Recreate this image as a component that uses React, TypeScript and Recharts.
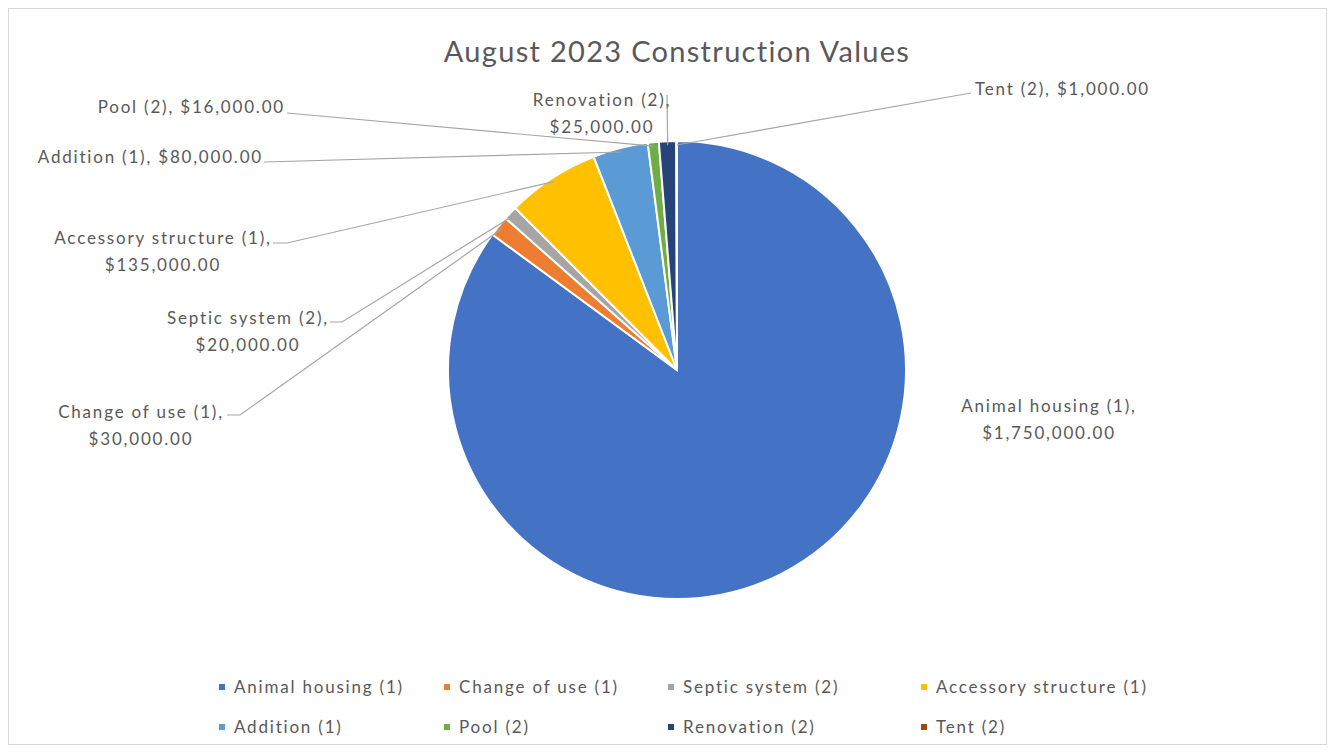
import React from 'react';
import { PieChart, Pie, Cell, Legend } from 'recharts';

const categories = [
	'Animal housing (1)',
	'Change of use (1)',
	'Septic system (2)',
	'Accessory structure (1)',
	'Addition (1)',
	'Pool (2)',
	'Renovation (2)',
	'Tent (2)',
];
const values = [1750000, 30000, 20000, 135000, 80000, 16000, 25000, 1000];
const colors = ['#4472C4', '#ED7D31', '#A5A5A5', '#FFC000', '#5B9BD5', '#70AD47', '#264478', '#9E480E'];

const W = 1319;
const H = 737;
const FONT = 'Lato, "Open Sans", sans-serif';
const TEXT = '#595959';
const SPACING = 1.8;

// hand placed data labels (chart coords). split = two lines centred on x.
// lx,ly = where the leader line leaves the label, tick = short flat bit
type Lay = { x: number; y: number; anchor: 'start' | 'middle' | 'end'; split: boolean; lx?: number; ly?: number; tick?: number };
const labelLayout: Lay[] = [
	{ x: 1040, y: 403, anchor: 'middle', split: true },
	{ x: 132, y: 409, anchor: 'middle', split: true, lx: 218, ly: 406, tick: 13 },
	{ x: 239, y: 315, anchor: 'middle', split: true, lx: 321, ly: 313, tick: 12 },
	{ x: 154, y: 235, anchor: 'middle', split: true, lx: 264, ly: 234, tick: 14 },
	{ x: 254, y: 154, anchor: 'end', split: false, lx: 255, ly: 153, tick: 0 },
	{ x: 276, y: 104, anchor: 'end', split: false, lx: 278, ly: 104, tick: 0 },
	{ x: 593, y: 97, anchor: 'middle', split: true, lx: 658, ly: 86, tick: 0 },
	{ x: 966, y: 86, anchor: 'start', split: false, lx: 962, ly: 84, tick: 0 },
];

const money = (v: number) => '$' + v.toLocaleString('en-US', { minimumFractionDigits: 2, maximumFractionDigits: 2 });

const data = categories.map((name, i) => ({ name, value: values[i] }));

const renderLabel = (props: any) => {
	const { cx, cy, midAngle, outerRadius, index } = props;
	const lay = labelLayout[index];
	const RAD = Math.PI / 180;
	const ex = cx + (outerRadius - 4) * Math.cos(-midAngle * RAD);
	const ey = cy + (outerRadius - 4) * Math.sin(-midAngle * RAD);
	const name = categories[index];
	const val = money(values[index]);
	const style = { letterSpacing: SPACING };
	return (
		<g key={'lbl' + index}>
			{lay.lx !== undefined && (
				<polyline
					points={`${lay.lx},${lay.ly} ${lay.lx + (lay.tick || 0)},${lay.ly} ${ex},${ey}`}
					fill="none"
					stroke="#a6a6a6"
					strokeWidth={1.2}
				/>
			)}
			{lay.split ? (
				<text x={lay.x} y={lay.y} fill={TEXT} fontSize={17} fontFamily={FONT} textAnchor="middle" style={style}>
					<tspan x={lay.x}>{name},</tspan>
					<tspan x={lay.x} dy={27}>
						{val}
					</tspan>
				</text>
			) : (
				<text x={lay.x} y={lay.y} fill={TEXT} fontSize={17} fontFamily={FONT} textAnchor={lay.anchor} style={style}>
					{name}, {val}
				</text>
			)}
		</g>
	);
};

const legendCols = [210, 435, 659, 912];

const LegendBox = () => (
	<div style={{ position: 'relative', width: W, height: 70, fontFamily: FONT, fontSize: 17, color: TEXT, letterSpacing: SPACING }}>
		{categories.map((c, i) => (
			<div
				key={c}
				style={{
					position: 'absolute',
					left: legendCols[i % 4],
					top: Math.floor(i / 4) * 40,
					display: 'flex',
					alignItems: 'center',
					whiteSpace: 'nowrap',
				}}
			>
				<span style={{ width: 6, height: 6, background: colors[i], display: 'inline-block', marginRight: 9 }} />
				{c}
			</div>
		))}
	</div>
);

export default function App() {
	return (
		<div style={{ position: 'relative', width: W, height: H, border: '1px solid #d9d9d9', boxSizing: 'border-box', background: '#fff' }}>
			<div
				style={{
					position: 'absolute',
					top: 24,
					left: 0,
					width: 1336,
					textAlign: 'center',
					fontFamily: FONT,
					fontSize: 29,
					letterSpacing: 1.3,
					color: TEXT,
					zIndex: 1,
				}}
			>
				August 2023 Construction Values
			</div>
			<PieChart width={W - 2} height={H - 2} margin={{ top: 0, right: 0, bottom: 0, left: 0 }}>
				<Pie
					data={data}
					dataKey="value"
					nameKey="name"
					cx={668}
					cy={361}
					outerRadius={229}
					startAngle={90}
					endAngle={-270}
					stroke="#fff"
					strokeWidth={2}
					label={renderLabel}
					labelLine={false}
					isAnimationActive={false}
				>
					{data.map((d, i) => (
						<Cell key={d.name} fill={colors[i]} />
					))}
				</Pie>
				<Legend content={() => <LegendBox />} wrapperStyle={{ position: 'absolute', left: 0, top: 667 }} />
			</PieChart>
		</div>
	);
}
